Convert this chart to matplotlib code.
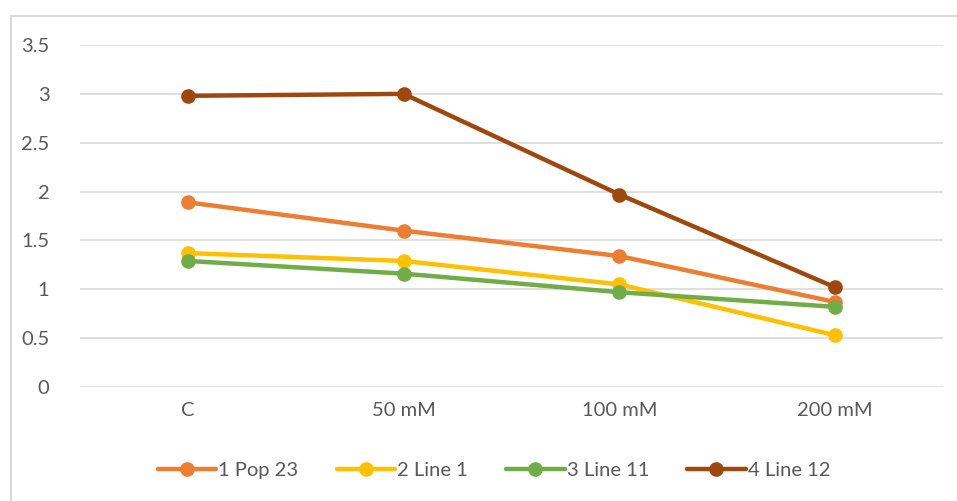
import matplotlib
matplotlib.use("Agg")
import matplotlib.pyplot as plt
from matplotlib.patches import Rectangle

categories = ["C", "50 mM", "100 mM", "200 mM"]
series_names = ["1 Pop 23", "2 Line 1", "3 Line 11", "4 Line 12"]
pop23 = [1.89, 1.60, 1.34, 0.87]
line1 = [1.37, 1.29, 1.05, 0.53]
line11 = [1.29, 1.16, 0.97, 0.82]
line12 = [2.98, 3.00, 1.97, 1.02]
yticks = [0, 0.5, 1, 1.5, 2, 2.5, 3, 3.5]
ytick_labels = ["0", "0.5", "1", "1.5", "2", "2.5", "3", "3.5"]

colors = ["#ED7D31", "#FFC000", "#70AD47", "#9E480E"]
values = [pop23, line1, line11, line12]

plt.rcParams['font.family'] = ['Lato', 'DejaVu Sans']

fig = plt.figure(figsize=(9.57, 5.01), dpi=100)
ax = fig.add_axes([80/957, 114/501, (943-80)/957, (387-45)/501])

x = list(range(len(categories)))
handles = []
for name, vals, c in zip(series_names, values, colors):
    h, = ax.plot(x, vals, color=c, lw=3.2, marker='o', markersize=9.5,
                 solid_capstyle='round', label=name, zorder=3)
    handles.append(h)

ax.set_xlim(-0.5, 3.5)
ax.set_ylim(0, 3.5)
ax.set_yticks(yticks)
ax.set_yticklabels(ytick_labels)
ax.set_xticks(x)
ax.set_xticklabels(categories)
ax.grid(axis='y', color='#D9D9D9', lw=1.2, zorder=0)
ax.set_axisbelow(True)
for s in ax.spines.values():
    s.set_visible(False)
ax.tick_params(axis='both', length=0, colors='#595959', labelsize=14.5)
ax.tick_params(axis='y', pad=22)
ax.tick_params(axis='x', pad=11)

fig.legend(handles=handles, loc='center', bbox_to_anchor=(494/957, 1 - 470/501),
           ncol=4, frameon=False, fontsize=14.5, labelcolor='#595959',
           handlelength=2.9, handletextpad=0.1, columnspacing=1.9)

fig.patches.append(Rectangle((11/957, -0.05), 1.0, 1 - 16/501 + 0.05,
                             transform=fig.transFigure, fill=False,
                             edgecolor='#D9D9D9', lw=1.5))

fig.savefig("out.png", dpi=100)
